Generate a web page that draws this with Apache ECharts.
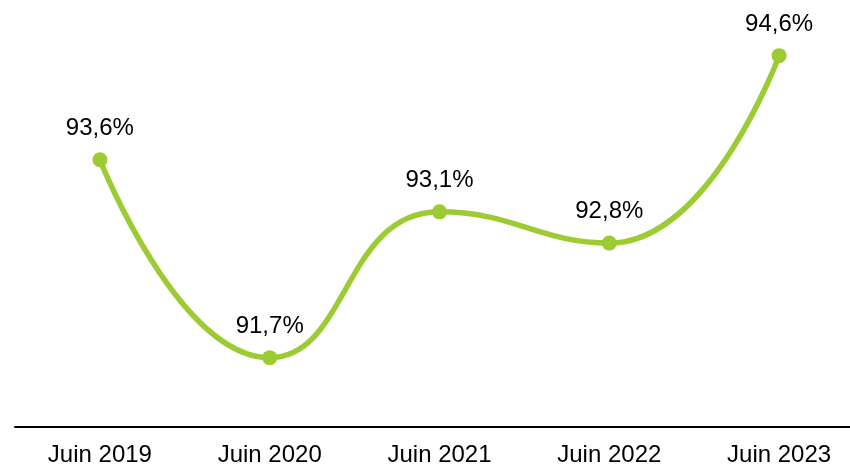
<!DOCTYPE html>
<html>
<head>
<meta charset="utf-8">
<script src="https://cdn.jsdelivr.net/npm/echarts@6/dist/echarts.min.js"></script>
<style>
  html, body { margin: 0; padding: 0; background: #ffffff; overflow: hidden; }
  /* the last category band runs past the right edge of the window */
  #chart { width: 864px; height: 467px; }
</style>
</head>
<body>
<div id="chart"></div>
<script>
// Periods on the horizontal axis
const categories = ['Juin 2019', 'Juin 2020', 'Juin 2021', 'Juin 2022', 'Juin 2023'];
// Rate in percent for each period
const rates = [93.6, 91.7, 93.1, 92.8, 94.6];

const green = '#9CCB34';
const fontFamily = '"Liberation Sans", Arial, sans-serif';

const chart = echarts.init(document.getElementById('chart'), null, { renderer: 'canvas' });

chart.setOption({
  animation: false,
  backgroundColor: '#ffffff',
  grid: { left: 15, right: 0, top: 14, bottom: 40 },
  xAxis: {
    type: 'category',
    data: categories,
    boundaryGap: true,
    axisLine: { show: true, lineStyle: { color: '#000000', width: 2 } },
    axisTick: { show: false },
    axisLabel: {
      color: '#000000',
      fontFamily: fontFamily,
      fontSize: 24,
      margin: 16
    }
  },
  yAxis: {
    type: 'value',
    min: 91.034,
    max: 95,
    show: false,
    splitLine: { show: false }
  },
  series: [{
    type: 'line',
    data: rates,
    smooth: 0.5,
    symbol: 'circle',
    symbolSize: 15,
    lineStyle: { color: green, width: 5.5 },
    itemStyle: { color: green },
    label: {
      show: true,
      position: 'top',
      distance: 12,
      color: '#000000',
      fontFamily: fontFamily,
      fontSize: 24,
      formatter: p => p.value.toFixed(1).replace('.', ',') + '%'
    }
  }]
});
</script>
</body>
</html>
